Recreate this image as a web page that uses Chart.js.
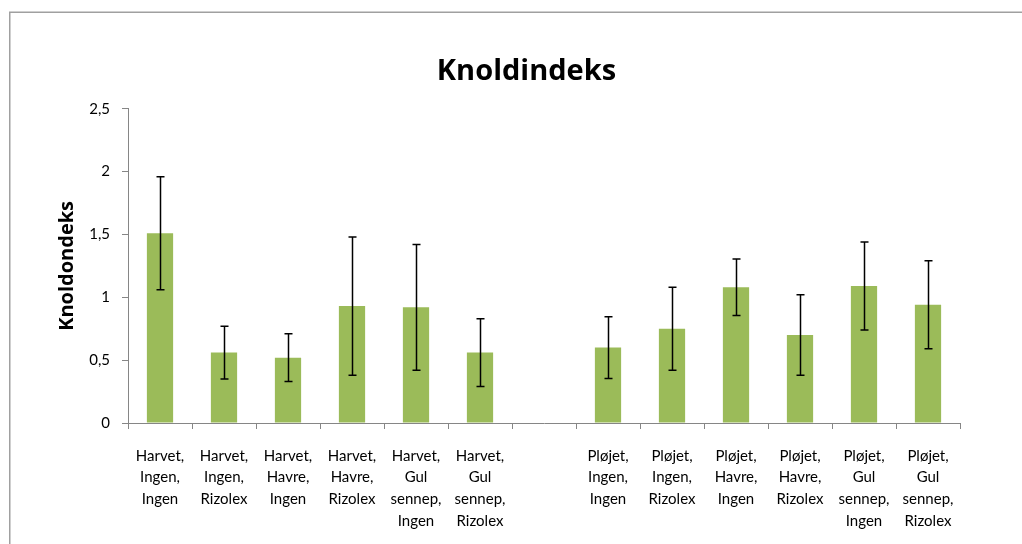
<!DOCTYPE html>
<html>
<head>
<meta charset="utf-8">
<script src="https://cdn.jsdelivr.net/npm/chart.js@4/dist/chart.umd.min.js"></script>
<style>
  html, body { margin: 0; padding: 0; background: #fff; overflow: hidden; }
  #wrap { width: 1022px; height: 544px; position: relative; }
</style>
</head>
<body>
<div id="wrap"><canvas id="chart" width="1022" height="544"></canvas></div>
<script>
// Categories (index 6 is the empty gap between Harvet and Pløjet)
const categories = [
  ["Harvet,", "Ingen,", "Ingen"],
  ["Harvet,", "Ingen,", "Rizolex"],
  ["Harvet,", "Havre,", "Ingen"],
  ["Harvet,", "Havre,", "Rizolex"],
  ["Harvet,", "Gul", "sennep,", "Ingen"],
  ["Harvet,", "Gul", "sennep,", "Rizolex"],
  "",
  ["Pløjet,", "Ingen,", "Ingen"],
  ["Pløjet,", "Ingen,", "Rizolex"],
  ["Pløjet,", "Havre,", "Ingen"],
  ["Pløjet,", "Havre,", "Rizolex"],
  ["Pløjet,", "Gul", "sennep,", "Ingen"],
  ["Pløjet,", "Gul", "sennep,", "Rizolex"]
];
const knoldindeks = [1.51, 0.56, 0.52, 0.93, 0.92, 0.56, null, 0.60, 0.75, 1.08, 0.70, 1.09, 0.94];
const errors      = [0.45, 0.21, 0.19, 0.55, 0.50, 0.27, null, 0.245, 0.33, 0.225, 0.32, 0.35, 0.35];
const yTickLabels = ["0", "0,5", "1", "1,5", "2", "2,5"];

const FONT = "Lato, 'Liberation Sans', sans-serif";
const BOLD = "'Open Sans', 'Liberation Sans', sans-serif";
const AXIS = "#868686";

// outer frame like the Excel chart area, and title centred on that frame
const framePlugin = {
  id: "frame",
  afterLayout(chart) {
    chart.titleBlock.left = 0;
    chart.titleBlock.right = 1053;
  },
  beforeDraw(chart) {
    const ctx = chart.ctx;
    ctx.save();
    ctx.fillStyle = "#fff";
    ctx.fillRect(0, 0, chart.width, chart.height);
    ctx.strokeStyle = "#a0a0a0";
    ctx.lineWidth = 1.5;
    ctx.strokeRect(9.75, 12.25, 1100, 600);
    ctx.restore();
  }
};

// error bars drawn from the data through the y scale
const errorBarPlugin = {
  id: "errorBars",
  afterDatasetsDraw(chart) {
    const ctx = chart.ctx;
    const y = chart.scales.y;
    const meta = chart.getDatasetMeta(0);
    ctx.save();
    ctx.strokeStyle = "#000";
    ctx.lineWidth = 1.5;
    meta.data.forEach((bar, i) => {
      const v = knoldindeks[i];
      const e = errors[i];
      if (v == null || e == null) return;
      const x = Math.round(bar.x) + 0.5;
      const top = y.getPixelForValue(v + e);
      const bot = y.getPixelForValue(v - e);
      ctx.beginPath();
      ctx.moveTo(x, top); ctx.lineTo(x, bot);
      ctx.moveTo(x - 4, top); ctx.lineTo(x + 4, top);
      ctx.moveTo(x - 4, bot); ctx.lineTo(x + 4, bot);
      ctx.stroke();
    });
    ctx.restore();
  }
};

new Chart(document.getElementById("chart"), {
  type: "bar",
  data: {
    labels: categories,
    datasets: [{
      label: "Knoldindeks",
      data: knoldindeks,
      backgroundColor: "#9BBB59",
      borderWidth: 0,
      categoryPercentage: 0.41,
      barPercentage: 1
    }]
  },
  options: {
    responsive: false,
    animation: false,
    layout: { padding: { left: 0, right: 62, top: 0, bottom: 0 } },
    plugins: {
      legend: { display: false },
      tooltip: { enabled: false },
      title: {
        display: true,
        text: "Knoldindeks",
        color: "#000",
        font: { family: BOLD, size: 29, weight: "bold", lineHeight: 1.2 },
        padding: { top: 54, bottom: 20 }
      }
    },
    scales: {
      x: {
        grid: { drawOnChartArea: false, tickLength: 6, color: AXIS, offset: true },
        border: { color: AXIS, width: 1 },
        ticks: {
          color: "#000",
          font: { family: FONT, size: 15, lineHeight: 1.45 },
          padding: 16,
          maxRotation: 0,
          autoSkip: false
        },
        afterFit(scale) { scale.height = 121; }
      },
      y: {
        min: 0,
        max: 2.5,
        grid: { drawOnChartArea: false, tickLength: 6, color: AXIS },
        border: { color: AXIS, width: 1 },
        ticks: {
          stepSize: 0.5,
          color: "#000",
          font: { family: FONT, size: 15 },
          padding: 12,
          callback: (v, i) => yTickLabels[i]
        },
        title: {
          display: true,
          text: "Knoldondeks",
          color: "#000",
          font: { family: BOLD, size: 20, weight: "bold", lineHeight: 1.2 },
          padding: { top: 55, bottom: 0 }
        },
        afterFit(scale) { scale.width = 128; }
      }
    }
  },
  plugins: [framePlugin, errorBarPlugin]
});
</script>
</body>
</html>
